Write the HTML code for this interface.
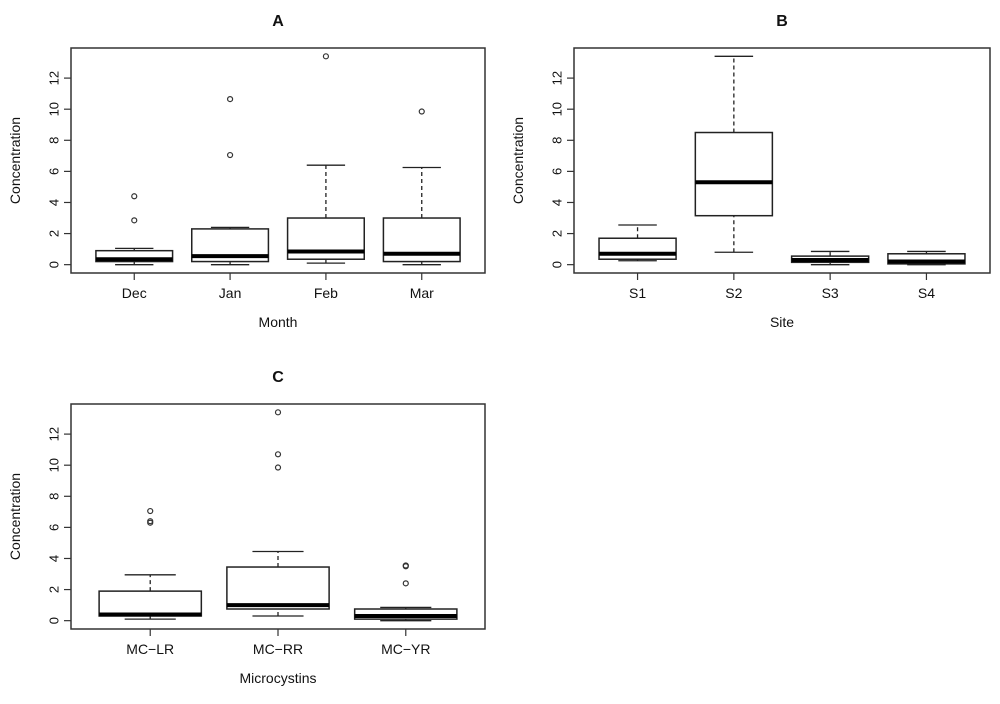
<!DOCTYPE html>
<html><head><meta charset="utf-8"><style>
body{margin:0;background:#fff;font-family:"Liberation Sans",Arial,sans-serif}
svg text{font-family:"Liberation Sans",Arial,sans-serif;fill:#111}
</style></head><body>
<svg id="s" width="1000" height="699" viewBox="0 0 1000 699"></svg>
<script>
const catsA=["Dec","Jan","Feb","Mar"];
const statsA=[[0,0.2,0.35,0.9,1.05],[0,0.2,0.55,2.3,2.4],[0.1,0.35,0.85,3.0,6.4],[0,0.2,0.7,3.0,6.25]];
const outA=[[2.85,4.4],[7.05,10.65],[13.4],[9.85]];
const catsB=["S1","S2","S3","S4"];
const statsB=[[0.25,0.35,0.7,1.7,2.55],[0.8,3.15,5.3,8.5,13.4],[0,0.15,0.3,0.55,0.85],[0,0.05,0.2,0.7,0.85]];
const outB=[[],[],[],[]];
const catsC=["MC\u2212LR","MC\u2212RR","MC\u2212YR"];
const statsC=[[0.1,0.3,0.4,1.9,2.95],[0.3,0.75,1.0,3.45,4.45],[0,0.1,0.3,0.75,0.85]];
const outC=[[6.3,6.4,7.05],[9.85,10.7,13.4],[2.4,3.5,3.55]];
const yTicks=[0,2,4,6,8,10,12];
const NS="http://www.w3.org/2000/svg";
const svg=document.getElementById('s');
function mk(tag,attrs,parent,txt){const e=document.createElementNS(NS,tag);for(const k in attrs)e.setAttribute(k,attrs[k]);if(txt!==undefined)e.textContent=txt;(parent||svg).appendChild(e);return e;}
function panel(id,L,T,R,B,title,xlab,cats,stats,outs){
  const g=mk('g',{});
  
  
  const n=cats.length;
  const ymin=-0.536,ymax=13.936;
  const y=v=>B-(v-ymin)/(ymax-ymin)*(B-T);
  const xlo=0.5-0.04*n,xhi=n+0.5+0.04*n;
  const x=i=>L+(i-xlo)/(xhi-xlo)*(R-L);
  const pu=(R-L)/(xhi-xlo);
  const bw=0.8*pu;
  const t=mk('text',{x:(L+R)/2,y:T-22,'text-anchor':'middle','font-size':16,'font-weight':'bold'},g,title);
  
  
  const fr=mk('rect',{x:L,y:T,width:R-L,height:B-T,fill:'none',stroke:'#333','stroke-width':1.5},g);
  
  
  yTicks.forEach(v=>{
    mk('line',{x1:L,x2:L-7,y1:y(v),y2:y(v),stroke:'#333','stroke-width':1.2},g);
    const tl=mk('text',{x:0,y:0,transform:`translate(${L-17},${y(v)}) rotate(-90)`,'text-anchor':'middle','dominant-baseline':'central','font-size':13},g,String(v));
    
    
  });
  const yl=mk('text',{x:0,y:0,transform:`translate(${L-51},${(T+B)/2}) rotate(-90)`,'text-anchor':'middle','font-size':14},g,'Concentration');
  
  
  const xl=mk('text',{x:(L+R)/2,y:B+54,'text-anchor':'middle','font-size':14},g,xlab);
  
  
  cats.forEach((c,i)=>{
    const cx=x(i+1),s=stats[i];
    mk('line',{x1:cx,x2:cx,y1:B,y2:B+7,stroke:'#333','stroke-width':1.2},g);
    const cl=mk('text',{x:cx,y:B+25,'text-anchor':'middle','font-size':14},g,c);
    
    
    const bg=mk('g',{},g);
    
    
    const st={stroke:'#222','stroke-width':1.3,fill:'none'};
    mk('line',Object.assign({x1:cx,x2:cx,y1:y(s[0]),y2:y(s[1]),'stroke-dasharray':'4,3'},st),bg);
    mk('line',Object.assign({x1:cx,x2:cx,y1:y(s[3]),y2:y(s[4]),'stroke-dasharray':'4,3'},st),bg);
    mk('line',Object.assign({x1:cx-bw/4,x2:cx+bw/4,y1:y(s[0]),y2:y(s[0])},st),bg);
    mk('line',Object.assign({x1:cx-bw/4,x2:cx+bw/4,y1:y(s[4]),y2:y(s[4])},st),bg);
    mk('rect',{x:cx-bw/2,y:y(s[3]),width:bw,height:y(s[1])-y(s[3]),fill:'#fff',stroke:'#222','stroke-width':1.5},bg);
    mk('line',{x1:cx-bw/2,x2:cx+bw/2,y1:y(s[2]),y2:y(s[2]),stroke:'#000','stroke-width':4},bg);
    outs[i].forEach(v=>{
      const o=mk('circle',{cx:cx,cy:y(v),r:2.5,fill:'none',stroke:'#333','stroke-width':1.2},bg);
      
      
    });
  });
}
panel('a',71,48,485,273,'A','Month',catsA,statsA,outA);
panel('b',574,48,990,273,'B','Site',catsB,statsB,outB);
panel('c',71,404,485,629,'C','Microcystins',catsC,statsC,outC);
</script>
</body></html>
